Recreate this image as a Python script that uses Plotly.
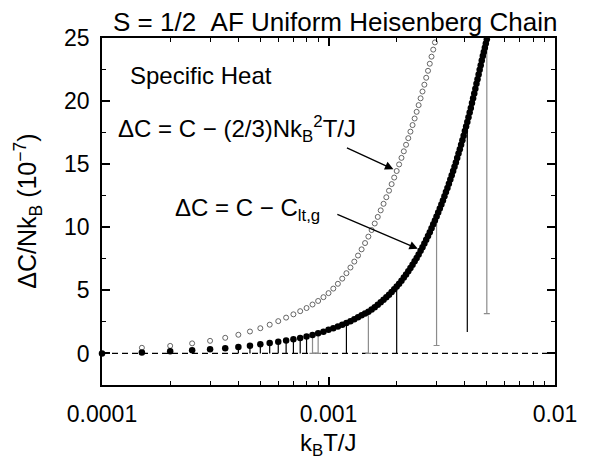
import math
import plotly.graph_objects as go

# Temperatures k_B T / J in units of 1e-4 (evenly spaced data grid)
t_e4 = [
    1.0, 1.5, 2.0, 2.5, 3.0, 3.5, 4.0, 4.5, 5.0, 5.5,
    6.0, 6.5, 7.0, 7.5, 8.0, 8.5, 9.0, 9.5, 10.0, 10.5,
    11.0, 11.5, 12.0, 12.5, 13.0, 13.5, 14.0, 14.5, 15.0, 15.5,
    16.0, 16.5, 17.0, 17.5, 18.0, 18.5, 19.0, 19.5, 20.0, 20.5,
    21.0, 21.5, 22.0, 22.5, 23.0, 23.5, 24.0, 24.5, 25.0, 25.5,
    26.0, 26.5, 27.0, 27.5, 28.0, 28.5, 29.0, 29.5, 30.0, 30.5,
    31.0, 31.5, 32.0, 32.5, 33.0, 33.5, 34.0, 34.5, 35.0, 35.5,
    36.0, 36.5, 37.0, 37.5, 38.0, 38.5, 39.0, 39.5, 40.0, 40.5,
    41.0, 41.5, 42.0, 42.5, 43.0, 43.5, 44.0, 44.5, 45.0, 45.5,
    46.0, 46.5, 47.0, 47.5, 48.0, 48.5, 49.0, 49.5, 50.0,
]

# Delta C = C - C_lt,g  (units of 1e-7 N k_B), filled circles
dc_lt = [
    0.00, 0.08, 0.17, 0.25, 0.33, 0.42, 0.52, 0.62, 0.72, 0.82,
    0.92, 1.02, 1.12, 1.23, 1.35, 1.47, 1.60, 1.73, 1.87, 2.00,
    2.13, 2.27, 2.41, 2.56, 2.71, 2.86, 3.02, 3.16, 3.30, 3.48,
    3.67, 3.86, 4.05, 4.25, 4.45, 4.66, 4.87, 5.08, 5.30, 5.53,
    5.77, 6.01, 6.26, 6.51, 6.77, 7.03, 7.30, 7.57, 7.85, 8.13,
    8.42, 8.71, 9.01, 9.31, 9.61, 9.92, 10.23, 10.54, 10.85, 11.17,
    11.49, 11.81, 12.13, 12.46, 12.79, 13.12, 13.45, 13.78, 14.12, 14.46,
    14.80, 15.14, 15.49, 15.84, 16.19, 16.54, 16.90, 17.26, 17.62, 17.98,
    18.35, 18.72, 19.09, 19.46, 19.84, 20.22, 20.60, 20.98, 21.37, 21.74,
    22.11, 22.48, 22.85, 23.21, 23.57, 23.90, 24.23, 24.56, 24.90,
]

# Delta C = C - (2/3) N k_B^2 T / J, open circles, from t = 1.5e-4 up to 3.0e-3
dc_linear = [
    0.45, 0.60, 0.80, 1.00, 1.24, 1.48, 1.74, 2.00, 2.28, 2.56,
    2.84, 3.10, 3.35, 3.60, 3.88, 4.16, 4.46, 4.78, 5.14, 5.52,
    5.93, 6.36, 6.81, 7.28, 7.76, 8.25, 8.75, 9.26, 9.78, 10.30,
    10.82, 11.34, 11.86, 12.38, 12.90, 13.42, 13.94, 14.46, 14.98, 15.50,
    16.02, 16.54, 17.06, 17.58, 18.10, 18.62, 19.15, 19.68, 20.22, 20.76,
    21.30, 21.85, 22.40, 22.96, 23.52, 24.08, 24.65, 25.22,
]
t_linear_e4 = t_e4[1:1 + len(dc_linear)]

# Lower uncertainty bars on selected filled points (lower end of each bar)
bar_black_t_e4 = [4.0, 4.5, 5.0, 5.5, 6.0, 6.5, 7.0, 7.5, 8.0, 12.0, 20.0, 41.0]
bar_black_low = [0.0, 0.0, 0.0, 0.0, 0.0, 0.0, 0.0, 0.0, 0.0, 0.0, 0.0, 1.71]
bar_gray_t_e4 = [8.5, 9.0, 15.0, 30.0, 50.0]
bar_gray_low = [0.0, 0.0, 0.0, 0.63, 3.16]

x_ticks = [1e-4, 1e-3, 1e-2]
x_tick_text = ["0.0001", "0.001", "0.01"]
y_ticks = [0, 5, 10, 15, 20, 25]

FONT = "Liberation Sans, Arial, Helvetica, sans-serif"
lt_at = dict(zip(t_e4, dc_lt))


def to_T(vals):
    return [v * 1e-4 for v in vals]


def bar_trace(ts, lows, color, cap):
    ys = [lt_at[t] for t in ts]
    return go.Scatter(
        x=to_T(ts), y=ys, mode="markers",
        marker=dict(size=2, opacity=0),
        error_y=dict(type="data", symmetric=False, array=[0] * len(ts),
                     arrayminus=[y - lo for y, lo in zip(ys, lows)],
                     color=color, thickness=1.2, width=cap),
        hoverinfo="skip", showlegend=False,
    )


fig = go.Figure()
fig.add_trace(bar_trace(bar_black_t_e4, bar_black_low, "#000000", 0))
fig.add_trace(bar_trace(bar_gray_t_e4, bar_gray_low, "#8c8c8c", 3))

fig.add_trace(go.Scatter(
    x=to_T(t_linear_e4), y=dc_linear, mode="markers",
    marker=dict(symbol="circle-open", size=5, color="#555555",
                line=dict(width=0.9, color="#555555")),
    showlegend=False,
))
fig.add_trace(go.Scatter(
    x=to_T(t_e4), y=dc_lt, mode="markers",
    marker=dict(symbol="circle", size=6.5, color="#000000"),
    cliponaxis=False, showlegend=False,
))

# dashed zero line
fig.add_shape(type="line", xref="paper", x0=0, x1=1, yref="y", y0=0, y1=0,
              line=dict(color="#000000", width=1.2, dash="6px,4px"), layer="below")

minor_x = [k * 10.0 ** e for e in (-4, -3) for k in range(2, 10)]
minor_y = [2.5, 7.5, 12.5, 17.5, 22.5]

axis_common = dict(
    showline=True, linecolor="#000000", linewidth=1.8, mirror="ticks",
    ticks="inside", ticklen=8, tickwidth=1.5, tickcolor="#000000",
    showgrid=False, zeroline=False,
    tickfont=dict(family=FONT, size=23, color="#000000"),
)

fig.update_xaxes(
    type="log", range=[-4, -2], tickvals=x_ticks, ticktext=x_tick_text,
    minor=dict(tickvals=minor_x, ticks="inside", ticklen=4, tickwidth=1.2,
               tickcolor="#000000", showgrid=False),
    ticklabelstandoff=7, ticklabeloverflow="allow", **axis_common,
)
fig.update_yaxes(
    range=[-2.5, 25], tickvals=y_ticks,
    minor=dict(tickvals=minor_y, ticks="inside", ticklen=4, tickwidth=1.2,
               tickcolor="#000000", showgrid=False),
    ticklabelstandoff=6, **axis_common,
)

txt = dict(family=FONT, size=24, color="#000000")
annotations = [
    dict(text="S = 1/2\u00a0\u00a0AF Uniform Heisenberg Chain", xref="paper", yref="paper",
         x=0.515, y=1.045, xanchor="center", yanchor="middle", showarrow=False,
         font=dict(family=FONT, size=26, color="#000000")),
    dict(text="Specific Heat", xref="paper", yref="paper", x=0.058, y=0.893,
         xanchor="left", yanchor="middle", showarrow=False, font=txt),
    dict(text="\u0394C = C \u2212 (2/3)Nk<sub>B</sub><sup>2</sup>T/J", xref="paper", yref="paper",
         x=0.030, y=0.738, xanchor="left", yanchor="middle", showarrow=False, font=txt),
    dict(text="\u0394C = C \u2212 C<sub>lt,g</sub>", xref="paper", yref="paper",
         x=0.156, y=0.505, xanchor="left", yanchor="middle", showarrow=False, font=txt),
    dict(text="k<sub>B</sub>T/J", xref="paper", yref="paper", x=0.5, y=-0.172,
         xanchor="center", yanchor="middle", showarrow=False,
         font=dict(family=FONT, size=24, color="#000000")),
    dict(text="\u0394C/Nk<sub>B</sub> (10<sup>\u22127</sup>)", xref="paper", yref="paper",
         x=-0.165, y=0.5, xanchor="center", yanchor="middle", textangle=-90,
         showarrow=False, font=dict(family=FONT, size=25, color="#000000")),
    # arrows pointing at the two curves
    dict(text="", x=math.log10(1.935e-3), y=14.6, xref="x", yref="y",
         ax=-48, ay=-22, showarrow=True, arrowhead=2, arrowsize=1.3,
         arrowwidth=1.3, arrowcolor="#000000", standoff=0),
    dict(text="", x=math.log10(2.48e-3), y=8.3, xref="x", yref="y",
         ax=-82, ay=-35, showarrow=True, arrowhead=2, arrowsize=1.3,
         arrowwidth=1.3, arrowcolor="#000000", standoff=0),
]

fig.update_layout(
    width=589, height=469,
    margin=dict(l=102, r=21, t=38, b=84),
    paper_bgcolor="#ffffff", plot_bgcolor="#ffffff",
    annotations=annotations,
    font=dict(family=FONT, color="#000000"),
)

fig.write_html("out.html")
